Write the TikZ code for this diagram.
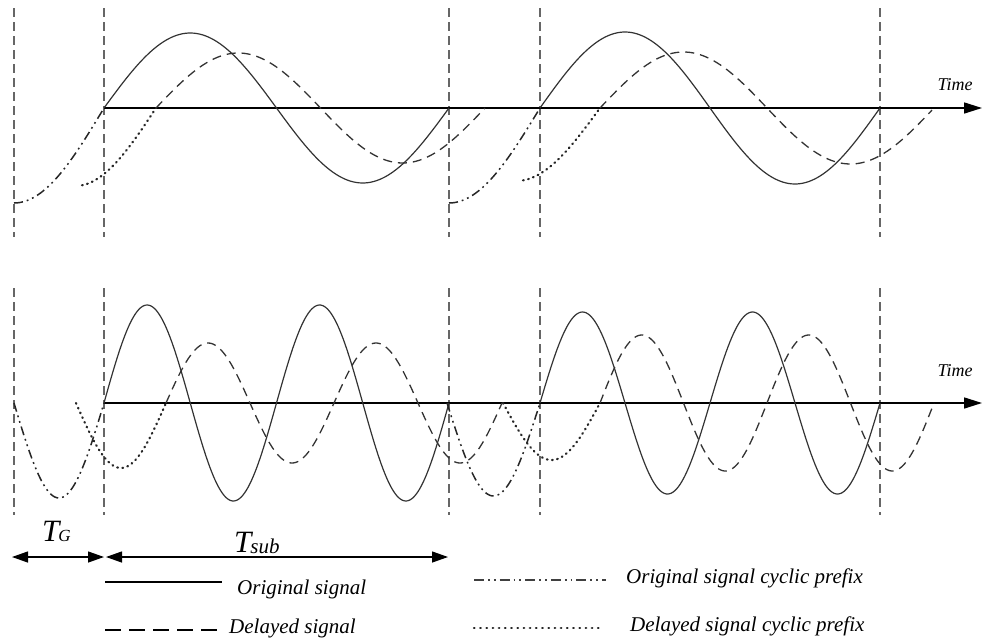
\documentclass[tikz,border=0pt]{standalone}
\usepackage{fontspec}
\setmainfont{Liberation Serif}
\usetikzlibrary{arrows.meta}
\tikzset{
  vline/.style={draw=black!60, line width=1.6pt, dash pattern=on 9pt off 5pt},
  axisline/.style={draw=black, line width=1.6pt, -{Triangle[length=18pt,width=11pt]}},
  orig/.style={draw=black!80, line width=1.2pt},
  delayed/.style={draw=black!80, line width=1.3pt, dash pattern=on 9pt off 6pt},
  origcp/.style={draw=black!85, line width=1.5pt, dash pattern=on 9pt off 4pt on 1.8pt off 4pt on 1.8pt off 4pt},
  delcp/.style={draw=black!85, line width=2.2pt, line cap=round, dash pattern=on 0.8pt off 4.4pt},
  dimarrow/.style={draw=black, line width=1.3pt, {Triangle[length=16pt,width=11pt]}-{Triangle[length=16pt,width=11pt]}},
  lbl/.style={font=\fontsize{21}{21}\selectfont\itshape, anchor=west, inner sep=0pt},
  timelbl/.style={font=\fontsize{18}{18}\selectfont\itshape, inner sep=0pt}
}
\begin{document}
\begin{tikzpicture}[x=1pt,y=-1pt]
\useasboundingbox (0,0) rectangle (986,643);
% vertical dashed lines
\foreach \xx in {14,104,449,540,880}{
  \draw[vline] (\xx,8) -- (\xx,237);
  \draw[vline] (\xx,288) -- (\xx,515);
}
% ---------- top panel ----------
\coordinate (ta0) at (104,108);
\coordinate (ta1) at (982,108);
\draw[axisline] (ta0) -- (ta1);
\node[timelbl] (time1) at (955,85) {Time};
\draw[orig] plot[domain=104:449, samples=120] (\x, {108 - 75*sin((\x-104)/345*360)});
\draw[orig] plot[domain=540:880, samples=120] (\x, {108 - 76*sin((\x-540)/340*360)});
\draw[delayed] plot[domain=156:485, samples=120] (\x, {108 - 55*sin((\x-156)/329*360)});
\draw[delayed] plot[domain=600:932, samples=120] (\x, {108 - 56*sin((\x-600)/334*360)});
\draw[origcp] plot[domain=14:104, samples=60] (\x, {108 - 95*sin((\x-104)/90*90)});
\draw[origcp] plot[domain=449:540, samples=60] (\x, {108 - 95*sin((\x-540)/91*90)});
\draw[delcp] plot[domain=82:156, samples=60] (\x, {108 - 78*sin((\x-156)/81*90)});
\draw[delcp] plot[domain=523:600, samples=60] (\x, {108 - 73*sin((\x-600)/84*90)});
% ---------- bottom panel ----------
\coordinate (ba0) at (104,403);
\coordinate (ba1) at (982,403);
\draw[axisline] (ba0) -- (ba1);
\node[timelbl] (time2) at (955,371) {Time};
\draw[orig] plot[domain=104:449, samples=200] (\x, {403 - 98*sin((\x-104)/172.5*360)});
\draw[orig] plot[domain=540:880, samples=200] (\x, {403 - 91*sin((\x-540)/170*360)});
\draw[delayed] plot[domain=166:502, samples=200] (\x, {403 - 60*sin((\x-166)/168*360)});
\draw[delayed] plot[domain=600:934, samples=200] (\x, {403 - 68*sin((\x-600)/167*360)});
\draw[origcp] plot[domain=14:104, samples=60] (\x, {403 + 95*sin((\x-14)/90*180)});
\draw[origcp] plot[domain=447:540, samples=60] (\x, {403 + 93*sin((\x-447)/93*180)});
\draw[delcp] plot[domain=76:166, samples=60] (\x, {403 + 65*sin((\x-76)/90*180)});
\draw[delcp] plot[domain=503:600, samples=60] (\x, {403 + 57*sin((\x-503)/97*180)});
% ---------- dimensions ----------
\coordinate (g0) at (12,557);
\coordinate (g1) at (104,557);
\coordinate (s0) at (106,557);
\coordinate (s1) at (448,557);
\draw[dimarrow] (g0) -- (g1);
\draw[dimarrow] (s0) -- (s1);
\node[inner sep=0pt, font=\itshape, anchor=base west] (tg) at (42,541) {\fontsize{31}{31}\selectfont T\kern-1pt\fontsize{17}{17}\selectfont G};
\node[inner sep=0pt, font=\itshape, anchor=base west] (tsub) at (234,552) {\fontsize{31}{31}\selectfont T\kern-1pt\raisebox{-1pt}{\fontsize{21}{21}\selectfont sub}};
% ---------- legend ----------
\coordinate (l1a) at (105,582); \coordinate (l1b) at (222,582);
\coordinate (l2a) at (105,630); \coordinate (l2b) at (218,630);
\coordinate (l3a) at (474,580); \coordinate (l3b) at (606,580);
\coordinate (l4a) at (474,628); \coordinate (l4b) at (604,628);
\draw[draw=black, line width=1.8pt] (l1a) -- (l1b);
\draw[draw=black, line width=1.8pt, dash pattern=on 16pt off 8pt] (l2a) -- (l2b);
\draw[draw=black!75, line width=1.5pt, dash pattern=on 10pt off 4pt on 1.8pt off 4pt on 1.8pt off 4pt] (l3a) -- (l3b);
\draw[draw=black!85, line width=2.2pt, line cap=round, dash pattern=on 0.6pt off 5.6pt] (l4a) -- (l4b);
\node[lbl] (t1) at (237,589) {Original signal};
\node[lbl] (t2) at (229,628) {Delayed signal};
\node[lbl] (t3) at (626,578) {Original signal cyclic prefix};
\node[lbl] (t4) at (630,626) {Delayed signal cyclic prefix};
\end{tikzpicture}
\end{document}
